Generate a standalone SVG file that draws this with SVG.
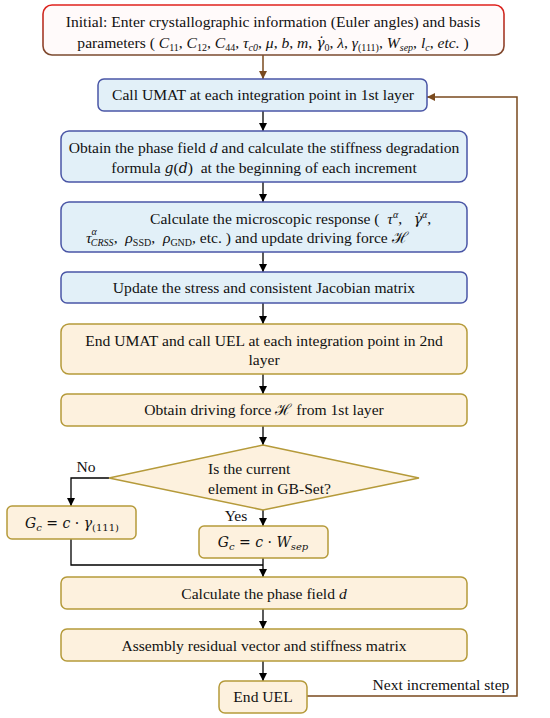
<svg xmlns="http://www.w3.org/2000/svg" width="550" height="718" viewBox="0 0 550 718">
<defs>
<linearGradient id="redg" x1="0" y1="0" x2="0" y2="1">
<stop offset="0" stop-color="#e0221e"/>
<stop offset="1" stop-color="#7a4a2e"/>
</linearGradient>
<marker id="ah" viewBox="0 0 10 10" refX="10" refY="5" markerWidth="8" markerHeight="8" markerUnits="userSpaceOnUse" orient="auto">
<path d="M0,0 L10,5 L0,10 z" fill="#000"/>
</marker>
<marker id="ahb" viewBox="0 0 10 10" refX="10" refY="5" markerWidth="8" markerHeight="8" markerUnits="userSpaceOnUse" orient="auto">
<path d="M0,0 L10,5 L0,10 z" fill="#7a4a1e"/>
</marker>
</defs>
<style>
text{font-family:"Liberation Serif","Times New Roman",serif;font-size:15.6px;fill:#111}
.c{text-anchor:middle}
.i{font-style:italic}
.blue{fill:#e2f0f8;stroke:#4a56a6;stroke-width:1.5}
.yel{fill:#fdf1de;stroke:#b59a3a;stroke-width:1.5}
.ln{fill:none;stroke:#000;stroke-width:1.3}
.br{fill:none;stroke:#7a4a1e;stroke-width:1.5}
.m{font-family:"DejaVu Serif","Liberation Serif",serif;font-style:italic;font-size:14px}
.s{font-size:10px}
.pre{white-space:pre}
</style>
<rect width="550" height="718" fill="#fff"/>
<g id="connectors">
<path class="br" d="M263,55 V79" marker-end="url(#ahb)"/>
<path class="ln" d="M263,111 V131" marker-end="url(#ah)"/>
<path class="ln" d="M263,182 V202" marker-end="url(#ah)"/>
<path class="ln" d="M263,252 V272" marker-end="url(#ah)"/>
<path class="ln" d="M263,303 V324" marker-end="url(#ah)"/>
<path class="ln" d="M263,374 V394" marker-end="url(#ah)"/>
<path class="ln" d="M263,426 V445" marker-end="url(#ah)"/>
<path class="ln" d="M109,478 H71 V506" marker-end="url(#ah)"/>
<path class="ln" d="M263,510 V526" marker-end="url(#ah)"/>
<path class="ln" d="M71,539 V565 H263"/>
<path class="ln" d="M263,558 V577" marker-end="url(#ah)"/>
<path class="ln" d="M263,609 V629" marker-end="url(#ah)"/>
<path class="ln" d="M263,661 V681" marker-end="url(#ah)"/>
<path class="br" d="M307,696 H517 V97 H427" marker-end="url(#ahb)"/>
<text x="86" y="472" class="c">No</text>
<text x="236" y="521" class="c">Yes</text>
<text x="441" y="690" class="c">Next incremental step</text>
</g>
<g id="n-init">
<rect x="43" y="5" width="461" height="50" rx="9" fill="#fffafa" stroke="url(#redg)" stroke-width="1.6"/>
<text x="273" y="27" class="c">Initial: Enter crystallographic information (Euler angles) and basis</text>
<text x="273" y="48" class="c">parameters ( <tspan class="i">C</tspan><tspan class="s" dy="3">11</tspan><tspan dy="-3">, </tspan><tspan class="i">C</tspan><tspan class="s" dy="3">12</tspan><tspan dy="-3">, </tspan><tspan class="i">C</tspan><tspan class="s" dy="3">44</tspan><tspan dy="-3">, </tspan><tspan class="i">τ</tspan><tspan class="i s" dy="3">c0</tspan><tspan dy="-3">, </tspan><tspan class="i">μ</tspan>, <tspan class="i">b</tspan>, <tspan class="i">m</tspan>, <tspan class="m">γ̇</tspan><tspan class="s" dy="3">0</tspan><tspan dy="-3">, </tspan><tspan class="i">λ</tspan>, <tspan class="i">γ</tspan><tspan class="s" dy="3">(111)</tspan><tspan dy="-3">, </tspan><tspan class="i">W</tspan><tspan class="i s" dy="3">sep</tspan><tspan dy="-3">, </tspan><tspan class="i">l</tspan><tspan class="i s" dy="3">c</tspan><tspan dy="-3">, </tspan><tspan class="i">etc.</tspan> )</text>
</g>
<g id="n-umat">
<rect x="98" y="79" width="329" height="32" rx="6" class="blue"/>
<text x="263" y="100" class="c">Call UMAT at each integration point in 1st layer</text>
</g>
<g id="n-phase">
<rect x="61" y="131" width="406" height="51" rx="8" class="blue"/>
<text x="264" y="153" class="c">Obtain the phase field <tspan class="i">d</tspan> and calculate the stiffness degradation</text>
<text x="264" y="173" class="c pre">formula <tspan class="m">g</tspan>(<tspan class="m">d</tspan>)  at the beginning of each increment</text>
</g>
<g id="n-micro">
<rect x="61" y="202" width="406" height="50" rx="8" class="blue"/>
<text x="150" y="224" class="pre">Calculate the microscopic response (  <tspan class="i">τ</tspan><tspan class="i s" dy="-6">α</tspan><tspan dy="6">,   </tspan><tspan class="m">γ̇</tspan><tspan class="i s" dy="-6">α</tspan><tspan dy="6">,</tspan></text>
<text x="86" y="243" class="pre"><tspan class="i">τ</tspan><tspan class="i s" dy="-8">α</tspan><tspan class="i s" dx="-6" dy="11">CRSS</tspan><tspan dy="-3">,  </tspan><tspan class="i">ρ</tspan><tspan class="s" dy="3">SSD</tspan><tspan dy="-3">,  </tspan><tspan class="i">ρ</tspan><tspan class="s" dy="3">GND</tspan><tspan dy="-3">, etc. ) and update driving force ℋ</tspan></text>
</g>
<g id="n-update">
<rect x="61" y="272" width="406" height="31" rx="6" class="blue"/>
<text x="264" y="293" class="c">Update the stress and consistent Jacobian matrix</text>
</g>
<g id="n-uel">
<rect x="61" y="324" width="406" height="50" rx="8" class="yel"/>
<text x="264" y="346" class="c">End UMAT and call UEL at each integration point in 2nd</text>
<text x="264" y="365" class="c">layer</text>
</g>
<g id="n-drive">
<rect x="61" y="394" width="406" height="32" rx="6" class="yel"/>
<text x="264" y="415" class="c">Obtain driving force ℋ from 1st layer</text>
</g>
<g id="n-decision">
<polygon points="263,445 419,478 263,510 109,478" class="yel"/>
<text x="208" y="474">Is the current</text>
<text x="208" y="494">element in GB-Set?</text>
</g>
<g id="n-gc1">
<rect x="7" y="506" width="129" height="33" rx="5" class="yel"/>
<text x="72" y="528" class="c m">G<tspan class="s" dy="3">c</tspan><tspan dy="-3" font-style="normal"> = </tspan>c<tspan font-style="normal"> · </tspan>γ<tspan class="s" dy="3" font-style="normal">(111)</tspan></text>
</g>
<g id="n-gc2">
<rect x="199" y="526" width="129" height="32" rx="5" class="yel"/>
<text x="263" y="547" class="c m">G<tspan class="s" dy="3">c</tspan><tspan dy="-3" font-style="normal"> = </tspan>c<tspan font-style="normal"> · </tspan>W<tspan class="s" dy="3">sep</tspan></text>
</g>
<g id="n-calc">
<rect x="61" y="577" width="406" height="32" rx="6" class="yel"/>
<text x="264" y="599" class="c">Calculate the phase field <tspan class="i">d</tspan></text>
</g>
<g id="n-assembly">
<rect x="61" y="629" width="406" height="32" rx="6" class="yel"/>
<text x="264" y="651" class="c">Assembly residual vector and stiffness matrix</text>
</g>
<g id="n-end">
<rect x="219" y="681" width="88" height="32" rx="6" class="yel"/>
<text x="263" y="702" class="c">End UEL</text>
</g>
</svg>
